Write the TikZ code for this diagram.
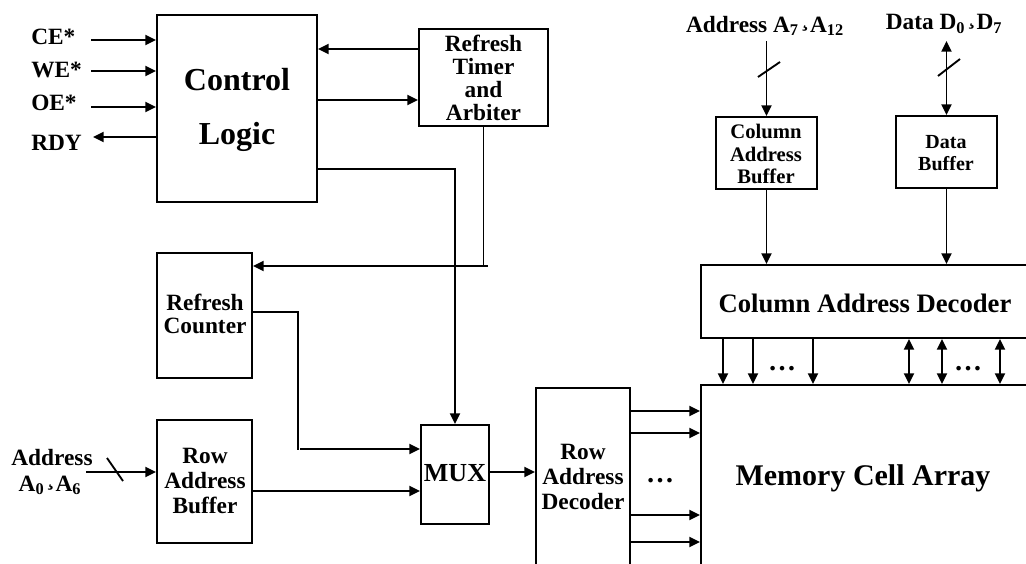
\documentclass[tikz,border=0pt]{standalone}
\usepackage{fontspec}
\setmainfont{Liberation Serif}
\usetikzlibrary{arrows.meta,fit}

\newcommand{\sep}{\raisebox{0.22em}{\kern0.1em¸\kern0.05em}}

\tikzset{
  px/.style={x=0.75pt,y=-0.75pt},
  box/.style={draw, line width=1.4pt, inner sep=0pt},
  tip/.tip={Triangle[length=8pt,width=7.5pt]},
  arr/.style={line width=1.4pt, -tip},
  biarr/.style={line width=1.4pt, tip-tip},
  wire/.style={line width=1.4pt},
  sig/.style={font=\bfseries\fontsize{17.5}{17.5}\selectfont, inner sep=0pt},
  tight/.style={text height=0.7em, text depth=0.12em},
  txt/.style={align=center, inner sep=0pt},
  dots/.style={font=\bfseries\fontsize{21}{21}\selectfont, inner sep=0pt},
}

\begin{document}
\begin{tikzpicture}[px]
\useasboundingbox (0,0) rectangle (1026,564);
\clip (0,0) rectangle (1026,564);

% ---------------- blocks ----------------
\node[box, fit={(157,15) (317,202)}] (ctrl) {};
\node[txt, font=\bfseries\fontsize{24}{40}\selectfont] (ctrlt) at (237,110) {Control\\Logic};
\node[box, fit={(419,29) (548,126)}] (rta) {};
\node[txt, font=\bfseries\fontsize{17.5}{17.2}\selectfont] (rtat) at (rta.center) {Refresh\\Timer\\and\\Arbiter};
\node[box, fit={(157,253) (252,378)}] (rc) {};
\node[txt, font=\bfseries\fontsize{17.5}{17.3}\selectfont] (rct) at (205,314) {Refresh\\Counter};
\node[box, fit={(157,420) (252,543)}] (rab) {};
\node[txt, font=\bfseries\fontsize{17.5}{19}\selectfont] (rabt) at (205,481) {Row\\Address\\Buffer};
\node[box, fit={(421,425) (489,524)}] (mux) {};
\node[txt, font=\bfseries\fontsize{19.5}{19.5}\selectfont] (muxt) at (455,473) {MUX};
\node[box, fit={(536,388) (630,620)}] (rad) {};
\node[txt, font=\bfseries\fontsize{17.5}{19}\selectfont] (radt) at (583,477) {Row\\Address\\Decoder};
\node[box, fit={(701,385) (1060,620)}] (mca) {};
\node[txt, font=\bfseries\fontsize{22.5}{22.5}\selectfont] (mcat) at (863,478) {Memory Cell Array};
\node[box, fit={(701,265) (1060,338)}] (cad) {};
\node[txt, font=\bfseries\fontsize{20}{20}\selectfont] (cadt) at (865,303) {Column Address Decoder};
\node[box, fit={(716,117) (817,189)}] (cab) {};
\node[txt, font=\bfseries\fontsize{15.5}{17.2}\selectfont] (cabt) at (766,154) {Column\\Address\\Buffer};
\node[box, fit={(896,116) (997,188)}] (db) {};
\node[txt, font=\bfseries\fontsize{15}{16.5}\selectfont] (dbt) at (946,153) {Data\\Buffer};

% ---------------- external signals ----------------
\node[sig, anchor=base west] (ce)  at (31,45)  {CE*};
\node[sig, anchor=base west] (we)  at (31,77)  {WE*};
\node[sig, anchor=base west] (oe)  at (31,110) {OE*};
\node[sig, anchor=base west] (rdy) at (31,150) {RDY};
\coordinate (cein) at (91,40);
\coordinate (wein) at (91,71);
\coordinate (oein) at (91,107);
\coordinate (rdyout) at (93,137);
\draw[arr] (cein) -- (cein -| ctrl.west);
\draw[arr] (wein) -- (wein -| ctrl.west);
\draw[arr] (oein) -- (oein -| ctrl.west);
\draw[arr] (rdyout -| ctrl.west) -- (rdyout);

\node[sig, tight, anchor=base] (arow1) at (52,465) {Address};
\node[sig, tight, anchor=base] (arow2) at (50,491) {A\textsubscript{0}\sep A\textsubscript{6}};
\node[sig, anchor=base] (acol) at (765,32)
  {Address A\textsubscript{7}\sep A\textsubscript{12}};
\node[sig, anchor=base] (dbus) at (944,30)
  {Data D\textsubscript{0}\sep D\textsubscript{7}};

% ---------------- control paths ----------------
\draw[arr] (rta.west |- 0,49) -- (ctrl.east |- 0,49);
\draw[arr] (ctrl.east |- 0,100) -- (rta.west |- 0,100);
\draw[arr] (ctrl.east |- 0,169) -| (mux.north);
\draw[arr] (rta.south) |- (rc.east |- 0,266);
\draw[wire] (rta.south |- 0,266) -- +(4,0);

% ---------------- address paths ----------------
\coordinate (rcbend) at (298,312);
\draw[wire] (rc.east |- rcbend) -- (rcbend) -- (rcbend |- 0,450);
\draw[arr] (300,449) -- (mux.west |- 0,449);

\coordinate (ain) at (86,472);
\draw[arr] (ain) -- (ain -| rab.west);
\draw[wire] (107,458) -- (123,481);
\draw[arr] (rab.east |- 0,491) -- (mux.west |- 0,491);
\draw[arr] (mux.east |- 0,472) -- (rad.west |- 0,472);

\foreach \y in {411,433,515,542}
  \draw[arr] (rad.east |- 0,\y) -- (mca.west |- 0,\y);
\node[dots] (rdots) at (660,481) {…};

\coordinate (atop) at (cab.north |- 0,41);
\draw[arr] (atop) -- (cab.north);
\draw[wire] (758,77) -- (780,62);
\draw[arr] (cab.south) -- (cab.south |- cad.north);

\coordinate (dtop) at (db.north |- 0,41);
\draw[biarr] (dtop) -- (db.north);
\draw[wire] (938,76) -- (960,59);
\draw[arr] (db.south) -- (db.south |- cad.north);

\foreach \x in {723,753,813}
  \draw[arr] (cad.south -| \x,0) -- (mca.north -| \x,0);
\foreach \x in {909,942,1000}
  \draw[biarr] (cad.south -| \x,0) -- (mca.north -| \x,0);
\node[dots] (cdots1) at (782,369) {…};
\node[dots] (cdots2) at (968,369) {…};
\end{tikzpicture}
\end{document}
